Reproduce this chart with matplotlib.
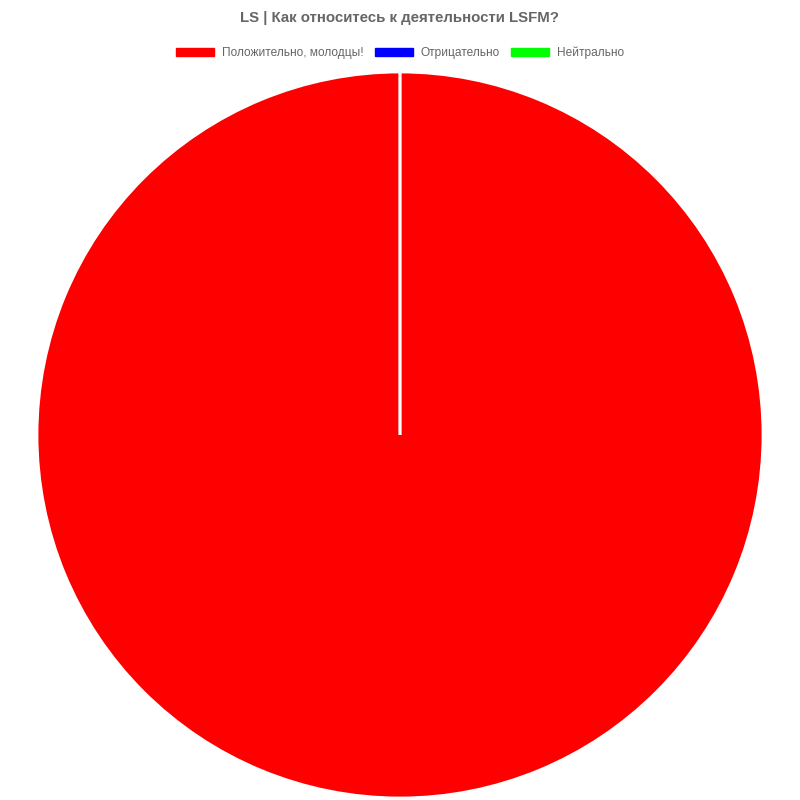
import matplotlib.pyplot as plt
from matplotlib.patches import Patch

plt.rcParams['font.family'] = ['Liberation Sans', 'DejaVu Sans']

title = "LS | Как относитесь к деятельности LSFM?"
labels = ["Положительно, молодцы!", "Отрицательно", "Нейтрально"]
values = [1, 0, 0]
colors = ["#ff0000", "#0000ff", "#00ff00"]

fig = plt.figure(figsize=(8, 8), dpi=100)

# pie centre at (400, 435) px, radius ~363 px
cx, cy, r = 0.5, 1 - 435 / 800, 363 / 800
ax = fig.add_axes([cx - r, cy - r, 2 * r, 2 * r])
ax.pie(values, colors=colors, startangle=90, counterclock=False,
       radius=1, wedgeprops=dict(edgecolor="white", linewidth=2))
ax.set_xlim(-1, 1)
ax.set_ylim(-1, 1)
ax.set_aspect("equal")
ax.axis("off")

fig.text(0.5, 1 - 18 / 800, title, ha="center", va="center",
         fontsize=10.8, fontweight="bold", color="#666666")

handles = [Patch(facecolor=c, edgecolor=c) for c in colors]
fig.legend(handles, labels, loc="center", bbox_to_anchor=(0.5, 1 - 53 / 800),
           ncol=3, frameon=False, fontsize=8.6, labelcolor="#666666",
           handlelength=3.2, handleheight=0.75, handletextpad=0.67,
           columnspacing=0.9, borderpad=0)

fig.savefig("out.png", dpi=100)
